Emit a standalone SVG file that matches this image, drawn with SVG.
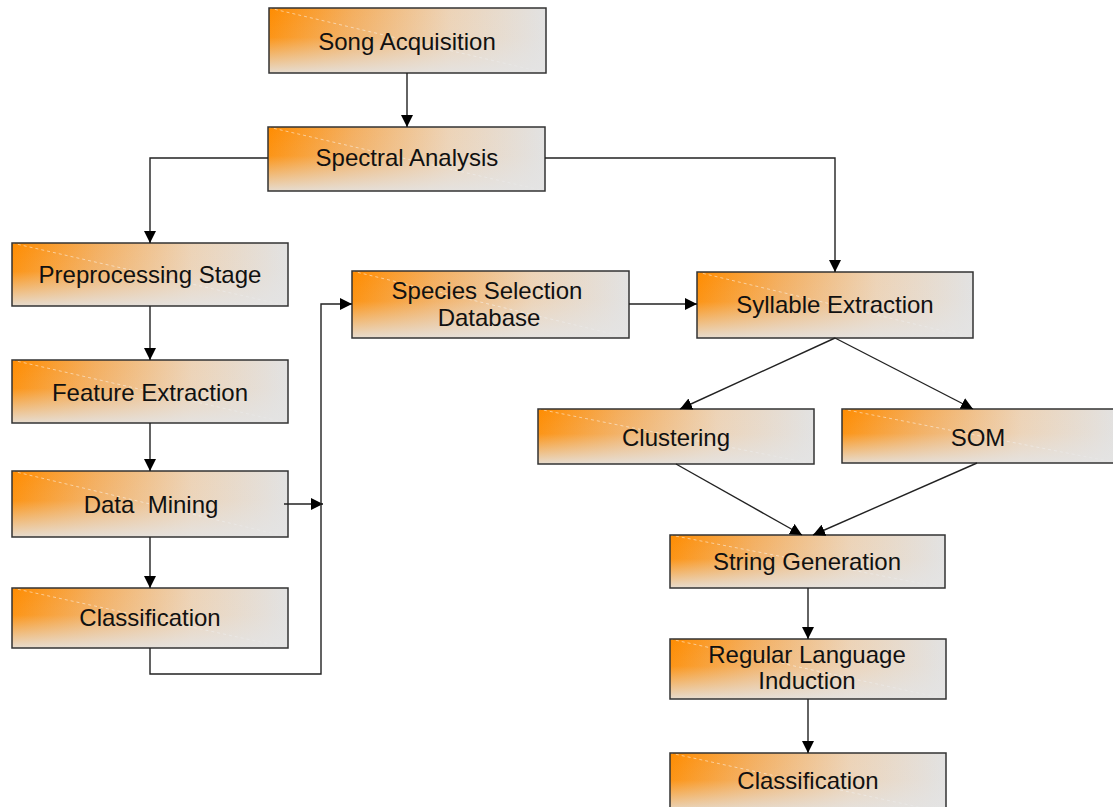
<svg xmlns="http://www.w3.org/2000/svg" width="1113" height="807" viewBox="0 0 1113 807">
<defs>
<linearGradient id="gH" x1="0" y1="0" x2="1" y2="0">
<stop offset="0" stop-color="#FF8C00"/>
<stop offset="0.3" stop-color="#F4AE5E"/>
<stop offset="0.65" stop-color="#EDD3B6"/>
<stop offset="1" stop-color="#E2E2E2"/>
</linearGradient>
<linearGradient id="gV" x1="0" y1="0" x2="0" y2="1">
<stop offset="0" stop-color="#E4E4E4" stop-opacity="0"/>
<stop offset="0.45" stop-color="#E4E4E4" stop-opacity="0.1"/>
<stop offset="1" stop-color="#E4E4E4" stop-opacity="0.9"/>
</linearGradient>
<marker id="arr" markerWidth="12" markerHeight="12" viewBox="0 0 12 12" refX="12" refY="6" orient="auto" markerUnits="userSpaceOnUse">
<path d="M0,0 L12,6 L0,12 z" fill="#000"/>
</marker>
</defs>
<style>
.base{fill:url(#gH);stroke:none}
.shade{fill:url(#gV);stroke:#333;stroke-width:1.5}
.diag{stroke:#fff;stroke-width:1;stroke-dasharray:3 3;opacity:0.5}
text{font-family:"Liberation Sans",Arial,sans-serif;font-size:24px;fill:#111;text-anchor:middle}
.c{fill:none;stroke:#222;stroke-width:1.4;marker-end:url(#arr)}
.cn{fill:none;stroke:#222;stroke-width:1.4}
</style>

<g id="song">
<rect class="base" x="269" y="8" width="277" height="65"/>
<line class="diag" x1="269" y1="8" x2="546" y2="73"/>
<rect class="shade" x="269" y="8" width="277" height="65"/>
<text x="407" y="50">Song Acquisition</text>
</g>
<g id="spectral">
<rect class="base" x="268" y="127" width="277" height="64"/>
<line class="diag" x1="268" y1="127" x2="545" y2="191"/>
<rect class="shade" x="268" y="127" width="277" height="64"/>
<text x="407" y="166">Spectral Analysis</text>
</g>
<g id="preprocessing">
<rect class="base" x="12" y="243" width="276" height="63"/>
<line class="diag" x1="12" y1="243" x2="288" y2="306"/>
<rect class="shade" x="12" y="243" width="276" height="63"/>
<text x="150" y="283">Preprocessing Stage</text>
</g>
<g id="feature">
<rect class="base" x="12" y="360" width="276" height="63"/>
<line class="diag" x1="12" y1="360" x2="288" y2="423"/>
<rect class="shade" x="12" y="360" width="276" height="63"/>
<text x="150" y="401">Feature Extraction</text>
</g>
<g id="datamining">
<rect class="base" x="12" y="471" width="276" height="66"/>
<line class="diag" x1="12" y1="471" x2="288" y2="537"/>
<rect class="shade" x="12" y="471" width="276" height="66"/>
<text x="151" y="513" xml:space="preserve">Data  Mining</text>
</g>
<g id="classification1">
<rect class="base" x="12" y="588" width="276" height="60"/>
<line class="diag" x1="12" y1="588" x2="288" y2="648"/>
<rect class="shade" x="12" y="588" width="276" height="60"/>
<text x="150" y="626">Classification</text>
</g>
<g id="species">
<rect class="base" x="352" y="271" width="277" height="67"/>
<line class="diag" x1="352" y1="271" x2="629" y2="338"/>
<rect class="shade" x="352" y="271" width="277" height="67"/>
<text x="487" y="299">Species Selection</text>
<text x="489" y="326">Database</text>
</g>
<g id="syllable">
<rect class="base" x="697" y="272" width="276" height="66"/>
<line class="diag" x1="697" y1="272" x2="973" y2="338"/>
<rect class="shade" x="697" y="272" width="276" height="66"/>
<text x="835" y="313">Syllable Extraction</text>
</g>
<g id="clustering">
<rect class="base" x="538" y="409" width="276" height="55"/>
<line class="diag" x1="538" y1="409" x2="814" y2="464"/>
<rect class="shade" x="538" y="409" width="276" height="55"/>
<text x="676" y="446">Clustering</text>
</g>
<g id="som">
<rect class="base" x="842" y="409" width="276" height="54"/>
<line class="diag" x1="842" y1="409" x2="1118" y2="463"/>
<rect class="shade" x="842" y="409" width="276" height="54"/>
<text x="978" y="446">SOM</text>
</g>
<g id="string">
<rect class="base" x="670" y="535" width="275" height="53"/>
<line class="diag" x1="670" y1="535" x2="945" y2="588"/>
<rect class="shade" x="670" y="535" width="275" height="53"/>
<text x="807" y="570">String Generation</text>
</g>
<g id="regular">
<rect class="base" x="670" y="639" width="276" height="60"/>
<line class="diag" x1="670" y1="639" x2="946" y2="699"/>
<rect class="shade" x="670" y="639" width="276" height="60"/>
<text x="807" y="663">Regular Language</text>
<text x="807" y="689">Induction</text>
</g>
<g id="classification2">
<rect class="base" x="670" y="753" width="276" height="60"/>
<line class="diag" x1="670" y1="753" x2="946" y2="813"/>
<rect class="shade" x="670" y="753" width="276" height="60"/>
<text x="808" y="789">Classification</text>
</g>

<g id="connectors">
<path class="c" d="M407,73 V127"/>
<path class="c" d="M268,158 H150 V243"/>
<path class="c" d="M545,158 H835 V272"/>
<path class="c" d="M150,306 V360"/>
<path class="c" d="M150,423 V471"/>
<path class="c" d="M150,537 V588"/>
<path class="c" d="M284,504 H323"/>
<path class="c" d="M150,648 V674 H321 V304 H352"/>
<path class="c" d="M629,304 H697"/>
<path class="c" d="M835,338 L680,409"/>
<path class="c" d="M835,338 L973,409"/>
<path class="c" d="M676,464 L802,535"/>
<path class="c" d="M977,463 L813,535"/>
<path class="c" d="M808,588 V639"/>
<path class="c" d="M808,699 V753"/>
</g>
</svg>
